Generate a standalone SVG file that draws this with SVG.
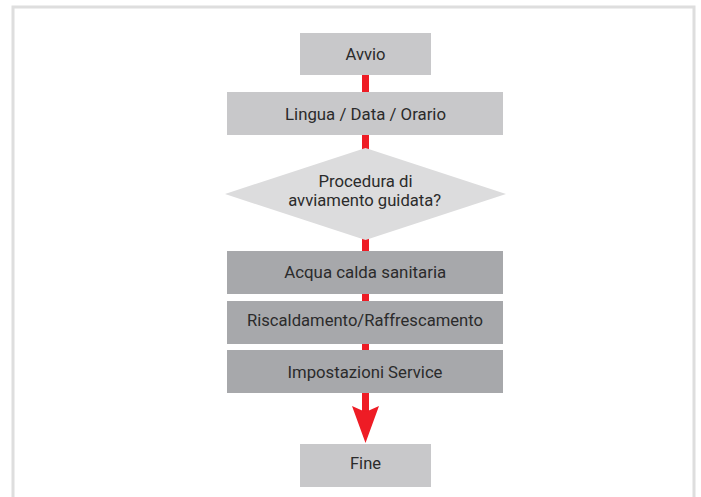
<svg xmlns="http://www.w3.org/2000/svg" width="701" height="497" viewBox="0 0 701 497">
<style>
  .lt{fill:#c8c8ca}
  .dk{fill:#a7a8ab}
  .dm{fill:#dcdcdd}
  text{font-family:Roboto,"Liberation Sans",sans-serif;font-size:17px;fill:#2b2b2b;text-anchor:middle}
</style>
<rect x="0" y="0" width="701" height="497" fill="#fff"/>
<path d="M13 497 V7 H694 V497" fill="none" stroke="#dedede" stroke-width="3"/>
<g id="connectors">
  <rect x="362" y="75" width="7" height="340" fill="#ee1c25"/>
  <polygon points="352,406 365.5,412 379,406 365.5,443" fill="#ee1c25"/>
</g>
<g id="avvio"><rect class="lt" x="300" y="33" width="131" height="42"/><text x="365.5" y="59.5" textLength="40" lengthAdjust="spacingAndGlyphs">Avvio</text></g>
<g id="lingua"><rect class="lt" x="227" y="92" width="276" height="43"/><text x="365.5" y="120" textLength="161" lengthAdjust="spacingAndGlyphs">Lingua / Data / Orario</text></g>
<g id="procedura"><polygon class="dm" points="225,194 365.5,148 506,194 365.5,240"/><text x="365.5" y="186.5" textLength="94" lengthAdjust="spacingAndGlyphs">Procedura di</text><text x="364.7" y="205.7" textLength="153" lengthAdjust="spacingAndGlyphs">avviamento guidata?</text></g>
<g id="acqua"><rect class="dk" x="227" y="251" width="276" height="43"/><text x="365.2" y="278.3" textLength="162" lengthAdjust="spacingAndGlyphs">Acqua calda sanitaria</text></g>
<g id="riscaldamento"><rect class="dk" x="227" y="301" width="276" height="43"/><text x="365" y="325.7" textLength="236" lengthAdjust="spacingAndGlyphs">Riscaldamento/Raffrescamento</text></g>
<g id="impostazioni"><rect class="dk" x="227" y="350" width="276" height="43"/><text x="365" y="377.7" textLength="155" lengthAdjust="spacingAndGlyphs">Impostazioni Service</text></g>
<g id="fine"><rect class="lt" x="300" y="444" width="131" height="43"/><text x="365.5" y="469.3" textLength="31" lengthAdjust="spacingAndGlyphs">Fine</text></g>
</svg>
